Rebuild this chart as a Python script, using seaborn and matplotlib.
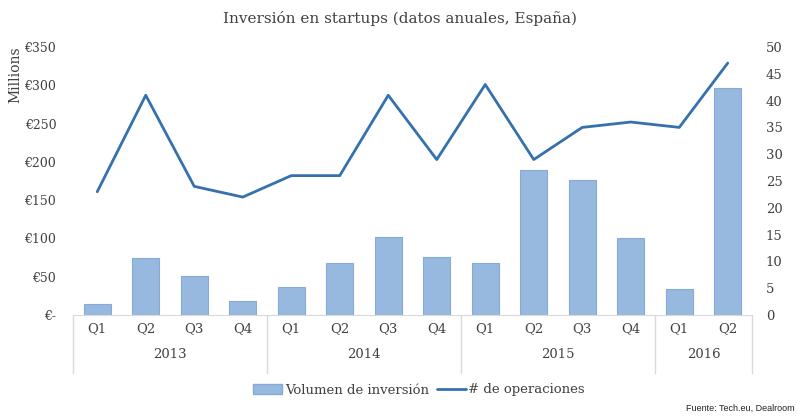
import numpy as np
import pandas as pd
import seaborn as sns
import matplotlib.pyplot as plt
import matplotlib.transforms as mtransforms
from matplotlib.patches import Patch
from matplotlib.lines import Line2D

quarters = ["Q1", "Q2", "Q3", "Q4", "Q1", "Q2", "Q3", "Q4", "Q1", "Q2", "Q3", "Q4", "Q1", "Q2"]
years = ["2013", "2014", "2015", "2016"]
year_counts = [4, 4, 4, 2]
volumen = [14, 75, 51, 18, 36, 68, 102, 76, 68, 189, 176, 100, 34, 296]
operaciones = [23, 41, 24, 22, 26, 26, 41, 29, 43, 29, 35, 36, 35, 47]

df = pd.DataFrame({"idx": range(len(quarters)), "q": quarters,
                   "vol": volumen, "ops": operaciones})

sns.set_style("white")
serif = ["DejaVu Serif"]
txt = "#404040"
bar_col = "#97b8df"
line_col = "#3471ad"
grey = "#d9d9d9"

fig = plt.figure(figsize=(8, 4.2), dpi=100)
ax = fig.add_axes([73 / 800, 105 / 420, 679 / 800, 268 / 420])

sns.barplot(data=df, x="idx", y="vol", color=bar_col, width=0.56,
            edgecolor="#87a9d6", linewidth=0.8, saturation=1, ax=ax)
ax2 = ax.twinx()
sns.lineplot(data=df, x="idx", y="ops", color=line_col, linewidth=2, ax=ax2)

ax.set_xlim(-0.5, len(quarters) - 0.5)
ax.set_ylim(0, 350)
ax2.set_ylim(0, 50)

lt = np.arange(0, 351, 50)
ax.set_yticks(lt)
ax.set_yticklabels(["€-" if v == 0 else "€%d" % v for v in lt], color=txt, fontsize=9, family=serif)
rt = np.arange(0, 51, 5)
ax2.set_yticks(rt)
ax2.set_yticklabels([str(v) for v in rt], color=txt, fontsize=9.5, family=serif)
ax.tick_params(axis="y", length=0, pad=12)
ax2.tick_params(axis="y", length=0, pad=10)

ax.set_xticks(range(len(quarters)))
ax.set_xticklabels(quarters, color=txt, fontsize=9.5, family=serif)
ax.tick_params(axis="x", length=0, pad=5)
ax.set_xlabel("")
ax.set_ylabel("")
ax2.set_ylabel("")

for a in (ax, ax2):
    for s in ["top", "left", "right", "bottom"]:
        a.spines[s].set_visible(False)
ax.spines["bottom"].set_visible(True)
ax.spines["bottom"].set_color(grey)

trans = mtransforms.blended_transform_factory(ax.transData, ax.transAxes)
edges = np.concatenate([[0], np.cumsum(year_counts)]) - 0.5
for e in edges:
    ax.plot([e, e], [0, -0.215], color=grey, linewidth=1, transform=trans, clip_on=False)
for i, y in enumerate(years):
    mid = (edges[i] + edges[i + 1]) / 2
    ax.text(mid, -0.148, y, transform=trans, ha="center", va="center",
            color=txt, fontsize=9.5, family=serif)

handles = [Patch(facecolor=bar_col, edgecolor="#87a9d6"),
           Line2D([0], [0], color=line_col, linewidth=2)]
fig.legend(handles, ["Volumen de inversión", "# de operaciones"], loc="center",
           bbox_to_anchor=(419 / 800, 1 - 390 / 420), ncol=2, frameon=False,
           prop={"family": serif, "size": 9.5}, labelcolor=txt,
           handlelength=2.2, columnspacing=0.6, handletextpad=0.2)

fig.text(0.5, 1 - 19 / 420, "Inversión en startups (datos anuales, España)",
         ha="center", va="center", fontsize=11, color=txt, family=serif)
fig.text(15 / 800, 1 - 46 / 420, "Millions", rotation=90, ha="center", va="top",
         fontsize=10, color=txt, family=serif)
fig.text(795 / 800, 1 - 408 / 420, "Fuente: Tech.eu, Dealroom", ha="right",
         va="center", fontsize=6.5, color="#222222", family=["Liberation Sans Narrow", "Liberation Sans"])

fig.savefig("out.png", dpi=100)
